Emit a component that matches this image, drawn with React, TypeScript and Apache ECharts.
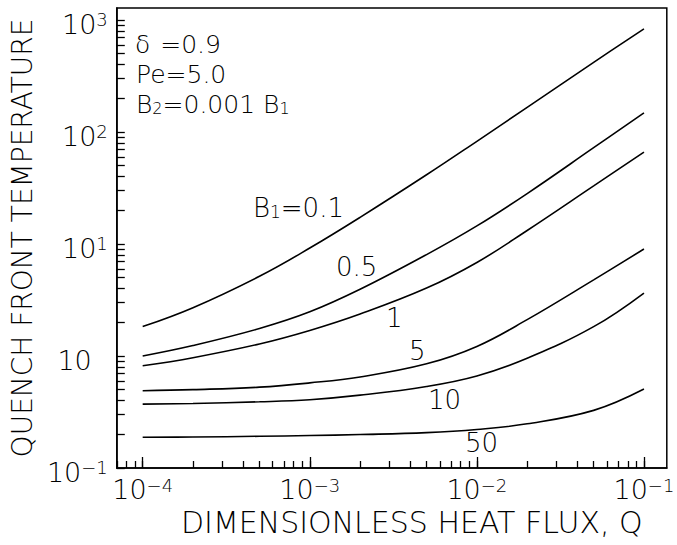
import { useEffect, useRef } from 'react';
import * as echarts from 'echarts';

const FONT = '"DejaVu Sans", "Liberation Sans", Arial, sans-serif';
const WEIGHT = 200;

// Dimensionless heat flux Q (x) sample points
const qValues = [1e-4, 2e-4, 5e-4, 1e-3, 2e-3, 5e-3, 1e-2, 2e-2, 5e-2, 1e-1];
// Quench front temperature for each B1
const tB1_01 = [1.83, 2.7, 5.15, 9.2, 17.3, 41.5, 82.6, 166, 419, 832];
const tB1_05 = [1.0, 1.24, 1.76, 2.48, 3.94, 8.04, 14.5, 28.2, 72.4, 148];
const tB1_1 = [0.818, 0.966, 1.28, 1.69, 2.37, 4.04, 6.84, 13.2, 33.0, 66.1];
const tB1_5 = [0.49, 0.501, 0.527, 0.575, 0.65, 0.851, 1.216, 2.113, 4.786, 9.016];
const tB1_10 = [0.372, 0.377, 0.39, 0.407, 0.447, 0.535, 0.664, 0.955, 1.828, 3.65];
const tB1_50 = [0.188, 0.189, 0.192, 0.195, 0.199, 0.207, 0.221, 0.248, 0.327, 0.507];

const seriesNames = ['B1=0.1', 'B1=0.5', 'B1=1', 'B1=5', 'B1=10', 'B1=50'];
const seriesValues = [tB1_01, tB1_05, tB1_1, tB1_5, tB1_10, tB1_50];

// Axis ranges and ticks
const xMin = 7e-5;
const xMax = 0.137;
const yMin = 0.1;
const yMax = 1280;
const xMajorTicks = [1e-4, 1e-3, 1e-2, 1e-1];
const yMajorTicks = [0.1, 1, 10, 100, 1000];
const minorMultipliers = [1, 2, 3, 4, 5, 6, 7, 8, 9];

function logTicks(lo: number, hi: number): number[] {
  const out: number[] = [];
  for (let e = Math.floor(Math.log10(lo)); e <= Math.ceil(Math.log10(hi)); e++) {
    for (const m of minorMultipliers) {
      const v = m * Math.pow(10, e);
      if (v >= lo * 0.999 && v <= hi * 1.001) out.push(v);
    }
  }
  return out;
}

const xAllTicks = logTicks(xMin, xMax);
const yAllTicks = logTicks(yMin, yMax);

const tickRich = {
  b: { fontSize: 27, lineHeight: 27, color: '#000', fontFamily: FONT, fontWeight: WEIGHT },
  s: { fontSize: 18, lineHeight: 18, verticalAlign: 'top', color: '#000', fontFamily: FONT, fontWeight: WEIGHT },
  pad: { width: 16, fontSize: 18, lineHeight: 18, color: '#000', fontFamily: FONT },
};

function powerLabel(v: number): string {
  const e = Math.round(Math.log10(v));
  if (e === 0) return '{b|10}{pad| }';
  return '{b|10}{s|' + (e < 0 ? '\u2212' : '') + Math.abs(e) + '}';
}

const annRich = {
  a: { fontSize: 25, lineHeight: 24, fill: '#000', fontFamily: FONT, fontWeight: WEIGHT },
  d: { fontSize: 25, lineHeight: 24, fill: '#000', fontFamily: FONT, fontWeight: WEIGHT, padding: [0, 2, 0, 0] },
  sub: { fontSize: 16, lineHeight: 16, verticalAlign: 'bottom', fill: '#000', fontFamily: FONT, fontWeight: WEIGHT },
};

const curveRich = {
  a: { fontSize: 26, lineHeight: 24, fill: '#000', fontFamily: FONT, fontWeight: WEIGHT },
  sub: { fontSize: 17, lineHeight: 16, verticalAlign: 'bottom', fill: '#000', fontFamily: FONT, fontWeight: WEIGHT },
};

function txt(x: number, y: number, text: string, rich: any = curveRich) {
  return {
    type: 'text',
    x,
    y,
    silent: true,
    style: {
      text,
      rich,
      align: 'left',
      verticalAlign: 'middle',
      fill: '#000',
      fontFamily: FONT,
      fontSize: 25,
      fontWeight: WEIGHT,
    },
  };
}

export default function App() {
  const ref = useRef<HTMLDivElement>(null);
  useEffect(() => {
    if (!ref.current) return;
    const chart = echarts.init(ref.current, null, { renderer: 'svg' });
    const axisCommon = {
      type: 'log',
      logBase: 10,
      splitLine: { show: false },
      minorTick: { show: false },
      minorSplitLine: { show: false },
    };
    chart.setOption({
      animation: false,
      backgroundColor: '#fff',
      grid: {
        left: 107,
        right: 5,
        top: 8,
        bottom: 77,
        show: true,
        borderColor: '#000',
        borderWidth: 1.5,
        backgroundColor: 'transparent',
      },
      xAxis: [
        {
          ...axisCommon,
          min: xMin,
          max: xMax,
          position: 'bottom',
          axisLine: { show: true, lineStyle: { color: '#000', width: 1.5 } },
          axisTick: {
            show: true,
            inside: true,
            length: 7,
            customValues: xAllTicks,
            lineStyle: { color: '#000', width: 1.3 },
          },
          axisLabel: {
            show: true,
            customValues: xMajorTicks,
            formatter: powerLabel,
            rich: tickRich,
            margin: 8,
            color: '#000',
          },
          name: 'DIMENSIONLESS HEAT FLUX, Q',
          nameLocation: 'middle',
          nameGap: 35,
          nameTextStyle: {
            fontSize: 30,
            color: '#000',
            fontFamily: FONT,
            fontWeight: WEIGHT,
            padding: [0, 0, 0, 40],
          },
        },
        {
          ...axisCommon,
          min: xMin,
          max: xMax,
          position: 'bottom',
          axisLine: { show: false },
          axisTick: {
            show: true,
            inside: true,
            length: 11,
            customValues: xMajorTicks,
            lineStyle: { color: '#000', width: 1.3 },
          },
          axisLabel: { show: false },
        },
      ],
      yAxis: [
        {
          ...axisCommon,
          min: yMin,
          max: yMax,
          position: 'left',
          axisLine: { show: true, lineStyle: { color: '#000', width: 1.5 } },
          axisTick: {
            show: true,
            inside: true,
            length: 8,
            customValues: yAllTicks,
            lineStyle: { color: '#000', width: 1.3 },
          },
          axisLabel: {
            show: true,
            customValues: yMajorTicks,
            formatter: powerLabel,
            rich: tickRich,
            margin: 9,
            color: '#000',
            padding: [8, 0, 0, 0],
          },
          name: 'QUENCH FRONT TEMPERATURE',
          nameLocation: 'middle',
          nameGap: 70,
          nameTextStyle: { fontSize: 28, color: '#000', fontFamily: FONT, fontWeight: WEIGHT },
        },
      ],
      series: seriesValues.map((vals, i) => ({
        name: seriesNames[i],
        type: 'line',
        xAxisIndex: 0,
        yAxisIndex: 0,
        data: qValues.map((q, j) => [q, vals[j]]),
        showSymbol: false,
        symbol: 'none',
        smooth: 0.4,
        lineStyle: { color: '#000', width: 1.6 },
        silent: true,
      })),
      graphic: [
        txt(135, 44, '{d|\u03b4}{a| =0.9}', annRich),
        txt(136, 74, '{a|Pe=5.0}', annRich),
        txt(136, 104, '{a|B}{sub|2}{a|=0.001 B}{sub|1}', annRich),
        txt(253, 208, '{a|B}{sub|1}{a|=0.1}'),
        txt(336, 267, '{a|0.5}'),
        txt(386, 318, '{a|1}'),
        txt(409, 351, '{a|5}'),
        txt(428, 400, '{a|10}'),
        txt(465, 443, '{a|50}'),
      ],
    });
    return () => chart.dispose();
  }, []);
  return (
    <div
      ref={ref}
      style={{ position: 'fixed', left: 0, top: 0, width: 677, height: 545, background: '#fff' }}
    />
  );
}
